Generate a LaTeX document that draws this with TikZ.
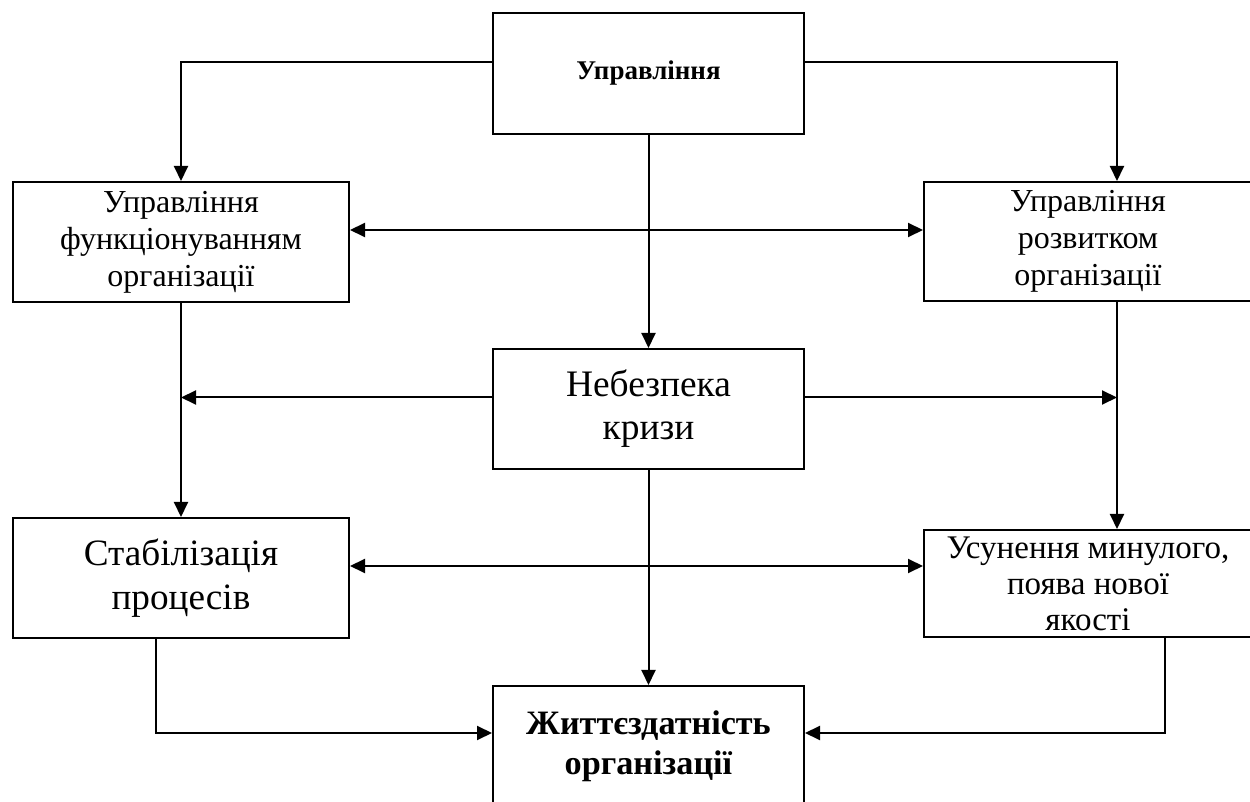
\documentclass[tikz,border=0pt]{standalone}
\usepackage{fontspec}
\setmainfont{Liberation Serif}
\usepackage{tikz}
\usetikzlibrary{arrows.meta,calc}

\begin{document}
\begin{tikzpicture}[x=0.5pt,y=-0.5pt]
			\tikzset{box/.style={draw,line width=1pt,align=center,inner sep=0pt,minimum width=#1}}
			\tikzset{arr/.style={line width=1pt,-{Triangle[length=7.5pt,width=7pt]}}}
			\tikzset{dbl/.style={line width=1pt,{Triangle[length=7.5pt,width=7pt]}-{Triangle[length=7.5pt,width=7pt]}}}
			\useasboundingbox (0,0) rectangle (1250,802);
			\node[box=155.5pt,minimum height=60.5pt,font=\fontsize{13.5}{15}\selectfont\bfseries] (upr) at (648.5,73.5) {Управління};
			\node[box=168pt,minimum height=60pt,font=\fontsize{16}{18.5}\selectfont] (func) at (181,242) {Управління\\функціонуванням\\організації};
			\node[box=164pt,minimum height=59.5pt,font=\fontsize{16}{18.5}\selectfont] (rozv) at (1088,241.5) {Управління\\розвитком\\організації};
			\node[box=155.5pt,minimum height=60pt,font=\fontsize{18.7}{21.5}\selectfont] (kryza) at (648.5,409) {Небезпека\\кризи};
			\node[box=168pt,minimum height=60pt,font=\fontsize{18.6}{22}\selectfont] (stab) at (181,578) {Стабілізація\\процесів};
			\node[box=164pt,minimum height=53.5pt,font=\fontsize{16.5}{18}\selectfont] (novi) at (1088,583.5) {Усунення минулого,\\поява нової\\якості};
			\node[box=155.5pt,minimum height=60pt,font=\fontsize{17.1}{20}\selectfont\bfseries] (zhyt) at (648.5,746) {Життєздатність\\організації};
			% lines
			\coordinate (rx) at (1117,0);
			\draw[arr] ([yshift=5.75pt]upr.west) -| (func.north);
			\draw[arr] ([yshift=5.75pt]upr.east) -| (rx |- rozv.north);
			\draw[arr] (upr.south) -- (kryza.north);
			\coordinate (h1) at ([yshift=6pt]func.east);
			\draw[dbl] (h1) -- (h1 -| rozv.west);
			\draw[arr] (func.south) -- (stab.north);
			\draw[arr] (rx |- rozv.south) -- (rx |- novi.north);
			\coordinate (h2) at ([yshift=5.75pt]kryza.west);
			\draw[arr] (h2) -- (h2 -| func.south);
			\coordinate (h3) at ([yshift=5.75pt]kryza.east);
			\draw[arr] (h3) -- (h3 -| rx);
			\coordinate (h4) at ([yshift=6pt]stab.east);
			\draw[dbl] (h4) -- (h4 -| novi.west);
			\draw[arr] (kryza.south) -- (zhyt.north);
			\draw[arr] ([xshift=-12.5pt]stab.south) |- ([yshift=6.5pt]zhyt.west);
			\draw[arr] ([xshift=38.5pt]novi.south) |- ([yshift=6.5pt]zhyt.east);
\end{tikzpicture}
\end{document}
